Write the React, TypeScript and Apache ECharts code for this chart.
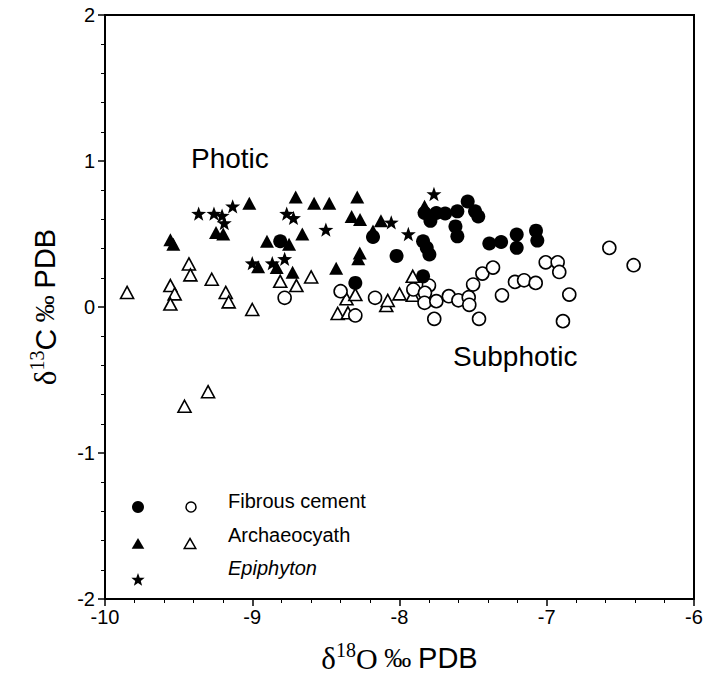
import React, { useEffect, useRef } from 'react';
import * as echarts from 'echarts';

// δ18O (x), δ13C (y)
const fibrousFilled: number[][] = [
  [-8.81, 0.45], [-8.18, 0.48], [-8.02, 0.35], [-8.30, 0.165],
  [-7.83, 0.644], [-7.79, 0.59], [-7.75, 0.644], [-7.69, 0.64], [-7.607, 0.655],
  [-7.537, 0.723], [-7.487, 0.655], [-7.465, 0.62], [-7.62, 0.552], [-7.607, 0.484],
  [-7.84, 0.45], [-7.815, 0.405], [-7.797, 0.36], [-7.84, 0.21], [-7.39, 0.435],
  [-7.31, 0.445], [-7.204, 0.496], [-7.204, 0.405], [-7.073, 0.523], [-7.064, 0.455],
];

const fibrousOpen: number[][] = [
  [-8.78, 0.063], [-8.40, 0.108], [-8.30, -0.058], [-8.166, 0.063],
  [-7.906, 0.12], [-7.80, 0.147], [-7.827, 0.097], [-7.83, 0.029], [-7.75, 0.04],
  [-7.665, 0.074], [-7.60, 0.046], [-7.53, 0.067], [-7.526, 0.015], [-7.50, 0.154],
  [-7.437, 0.229], [-7.365, 0.27], [-7.764, -0.081], [-7.46, -0.081], [-7.304, 0.08],
  [-7.216, 0.172], [-7.154, 0.183], [-7.075, 0.165], [-7.007, 0.306], [-6.926, 0.306],
  [-6.915, 0.24], [-6.847, 0.085], [-6.89, -0.097], [-6.575, 0.405], [-6.41, 0.286],
];

const archaeoFilled: number[][] = [
  [-9.02, 0.71], [-8.705, 0.753], [-8.58, 0.71], [-8.477, 0.71], [-8.287, 0.753],
  [-8.325, 0.62], [-8.268, 0.60], [-8.126, 0.59], [-9.246, 0.51], [-9.197, 0.50],
  [-9.556, 0.46], [-9.536, 0.43], [-8.90, 0.45], [-8.75, 0.43], [-8.66, 0.50],
  [-8.27, 0.37], [-8.28, 0.33], [-8.96, 0.275], [-8.834, 0.27], [-8.726, 0.238],
  [-8.43, 0.265], [-7.83, 0.69], [-8.18, 0.52],
];

const archaeoOpen: number[][] = [
  [-9.85, 0.10], [-9.43, 0.295], [-9.42, 0.22], [-9.556, 0.147], [-9.527, 0.09],
  [-9.556, 0.02], [-9.275, 0.19], [-9.18, 0.10], [-9.16, 0.035], [-9.0, -0.017],
  [-8.81, 0.176], [-8.70, 0.147], [-8.60, 0.206], [-8.36, 0.056], [-8.30, 0.085],
  [-8.42, -0.044], [-8.35, -0.04], [-8.09, 0.01], [-8.08, 0.045], [-8.0, 0.09],
  [-7.91, 0.21], [-7.91, 0.08], [-9.30, -0.58], [-9.46, -0.68],
];

const epiphyton: number[][] = [
  [-9.364, 0.64], [-9.26, 0.64], [-9.205, 0.626], [-9.19, 0.575], [-9.133, 0.69],
  [-8.766, 0.64], [-8.72, 0.61], [-8.50, 0.53], [-8.056, 0.58], [-7.94, 0.50],
  [-7.766, 0.774], [-9.0, 0.30], [-8.864, 0.30], [-8.78, 0.33],
];

const legendLabels = ['Fibrous cement', 'Archaeocyath', 'Epiphyton'];
const regionLabels = ['Photic', 'Subphotic'];

function starPoints(R: number, r: number): number[][] {
  const pts: number[][] = [];
  for (let i = 0; i < 10; i++) {
    const rad = i % 2 === 0 ? R : r;
    const a = -Math.PI / 2 + (i * Math.PI) / 5;
    pts.push([rad * Math.cos(a), rad * Math.sin(a)]);
  }
  return pts;
}

const starSymbol =
  'path://M' + starPoints(10, 4.1).map((p) => (p[0] + 10).toFixed(3) + ',' + (p[1] + 10).toFixed(3)).join('L') + 'Z';

const SANS = 'Liberation Sans, Arial, sans-serif';
const SERIF = 'Liberation Serif, Times New Roman, serif';

export default function App() {
  const ref = useRef<HTMLDivElement>(null);
  useEffect(() => {
    if (!ref.current) return;
    const chart = echarts.init(ref.current, undefined, { renderer: 'svg' });
    const openStyle = { color: '#fff', borderColor: '#000', borderWidth: 1.6, opacity: 1 };
    const filledStyle = { color: '#000', opacity: 1 };
    const tri = (x: number, y: number, s: number) => [[x, y - s], [x + s * 1.05, y + s * 0.8], [x - s * 1.05, y + s * 0.8]];
    const nameRich = (main: string) => ({
      d: { fontFamily: SERIF, fontSize: 31, color: '#000' },
      sup: { fontFamily: SERIF, fontSize: 20, color: '#000', padding: [0, 0, 16, 0] },
      o: { fontFamily: main, fontSize: 30, color: '#000' },
      pm: { fontFamily: SERIF, fontSize: 27, color: '#000' },
      s: { fontFamily: SANS, fontSize: 29, color: '#000' },
    });
    chart.setOption({
      animation: false,
      backgroundColor: '#fff',
      grid: { left: 105, right: 18, top: 15, bottom: 84, show: true, borderColor: '#000', borderWidth: 2 },
      xAxis: {
        type: 'value', min: -10, max: -6, interval: 1,
        axisLine: { onZero: false, lineStyle: { color: '#000', width: 2 } },
        axisTick: { length: 7, lineStyle: { color: '#000', width: 1.5 } },
        minorTick: { show: true, splitNumber: 5, length: 4, lineStyle: { color: '#000', width: 1 } },
        splitLine: { show: false },
        axisLabel: { color: '#000', fontSize: 20, fontFamily: SANS, margin: 8 },
        name: '{d|δ}{sup|18}{o|O}{pm| ‰ }{s|PDB}',
        nameLocation: 'middle', nameGap: 41,
        nameTextStyle: { color: '#000', rich: nameRich(SERIF) },
      },
      yAxis: {
        type: 'value', min: -2, max: 2, interval: 1,
        axisLine: { onZero: false, lineStyle: { color: '#000', width: 2 } },
        axisTick: { length: 7, lineStyle: { color: '#000', width: 1.5 } },
        minorTick: { show: true, splitNumber: 5, length: 4, lineStyle: { color: '#000', width: 1 } },
        splitLine: { show: false },
        axisLabel: { color: '#000', fontSize: 20, fontFamily: SANS, margin: 10 },
        name: '{d|δ}{sup|13}{o|C}{pm| ‰ }{s|PDB}',
        nameLocation: 'middle', nameGap: 42, nameRotate: 90,
        nameTextStyle: { color: '#000', rich: nameRich(SANS) },
      },
      series: [
        { type: 'scatter', name: 'Archaeocyath (subphotic)', data: archaeoOpen, symbol: 'triangle', symbolSize: [13, 12], itemStyle: openStyle },
        { type: 'scatter', name: 'Fibrous cement (subphotic)', data: fibrousOpen, symbol: 'circle', symbolSize: 13, itemStyle: openStyle },
        { type: 'scatter', name: 'Archaeocyath (photic)', data: archaeoFilled, symbol: 'triangle', symbolSize: [14, 13], itemStyle: filledStyle },
        { type: 'scatter', name: 'Epiphyton', data: epiphyton, symbol: starSymbol, symbolKeepAspect: true, symbolSize: 15, itemStyle: filledStyle },
        { type: 'scatter', name: 'Fibrous cement (photic)', data: fibrousFilled, symbol: 'circle', symbolSize: 14, itemStyle: filledStyle },
      ],
      graphic: [
        { type: 'text', left: 191, top: 144, style: { text: regionLabels[0], font: '28px ' + SANS, fill: '#000' } },
        { type: 'text', left: 453, top: 342, style: { text: regionLabels[1], font: '28px ' + SANS, fill: '#000' } },
        { type: 'circle', shape: { cx: 138, cy: 507, r: 6 }, style: { fill: '#000' } },
        { type: 'circle', shape: { cx: 191, cy: 507, r: 5 }, style: { fill: '#fff', stroke: '#000', lineWidth: 1.5 } },
        { type: 'polygon', shape: { points: tri(138, 544, 6) }, style: { fill: '#000' } },
        { type: 'polygon', shape: { points: tri(190, 544, 5.5) }, style: { fill: '#fff', stroke: '#000', lineWidth: 1.5 } },
        { type: 'polygon', shape: { points: starPoints(7, 2.9).map((p) => [p[0] + 138, p[1] + 580]) }, style: { fill: '#000' } },
        { type: 'text', x: 228, y: 501, style: { text: legendLabels[0], font: '20px ' + SANS, fill: '#000', verticalAlign: 'middle' } },
        { type: 'text', x: 228, y: 535, style: { text: legendLabels[1], font: '20px ' + SANS, fill: '#000', verticalAlign: 'middle' } },
        { type: 'text', x: 228, y: 568, style: { text: legendLabels[2], font: 'italic 20px ' + SANS, fill: '#000', verticalAlign: 'middle' } },
      ],
    });
    return () => chart.dispose();
  }, []);
  return <div ref={ref} style={{ width: 712, height: 683, position: 'absolute', left: 0, top: 0, background: '#fff' }} />;
}
